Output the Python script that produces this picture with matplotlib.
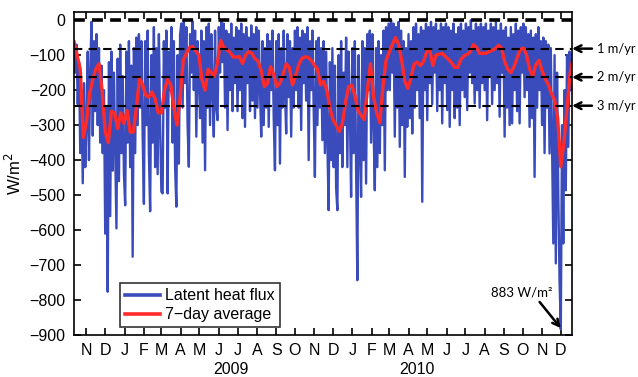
import numpy as np
import matplotlib
matplotlib.use('Agg')
import matplotlib.pyplot as plt
import matplotlib.dates as mdates
from matplotlib.ticker import FuncFormatter

plt.rcParams['font.family'] = ['Liberation Sans', 'DejaVu Sans']

# Latent heat flux, one value every 2 days from 12 Oct 2008 (W/m2)
flux_2008 = [-60, -150, -70, -240, -120, -380, -200, -466, -180, -420,
             -300, -90, -400, -150, -5, -330, -60, -260, -40, -300, -80, -350, -130, -380, -200,
             -610, -250, -776, -120, -560, -90, -430, -150, -380, -595, -110, -460, -70, -380, -160, -440]
flux_2009_h1 = [-529, -90, -350, -60, -420, -130, -676, -80, -380, -50, -300, -40, -250, -60, -330,
                -525, -60, -300, -30, -380, -546, -100, -350, -20, -420, -80, -440, -40, -300, -490,
                -495, -60, -250, -30, -495, -90, -200, -20, -350, -60, -420, -533, -100, -410, -40,
                -10, -250, 0, -180, -20, -300, -419, -40, -150, -5, -200, -30, -333, -60, -160,
                -280, -30, -350, -60, -429, -20, -250, -10, -300, -40, -200, -333, -30, -250, -286,
                -20, -150, 0, -120, -10, -250, -30, -314, -40, -200, -10, -260, -50, -180, -20]
flux_2009_h2 = [-260, -30, -200, -10, -280, -40, -305, -20, -180, -50, -260, -15, -230, -40, -280, -20,
                -250, -30, -200, -333, -60, -300, -80, -250, -40, -305, -60, -200, -30, -280, -429,
                -60, -300, -40, -410, -80, -250, -30, -200, -324, -40, -220, -60, -333, -80, -250,
                -30, -200, -20, -250, -50, -314, -30, -180, -40, -230, -20, -400, -60, -200, -30,
                -250, -448, -60, -300, -50, -250, -80, -343, -60, -380, -90, -350, -543, -120, -400,
                -80, -420, -130, -480, -543, -100, -380, -60, -420, -150, -300, -50, -420, -90, -250, -505]
flux_2010_h1 = [-80, -380, -60, -420, -743, -100, -350, -505, -60, -400, -80, -467, -40, -200, -30,
                -350, -40, -300, -486, -80, -420, -60, -380, -100, -300, -30, -429, -20, -200,
                -10, -200, 0, -150, -10, -333, -20, -250, -5, -362, -30, -300, -60, -448, -80,
                -305, -40, -280, -60, -324, -20, -250, -10, -200, -40, -280, -20, -519, -30, -200,
                -10, -286, -20, -180, -5, -240, -20, -150, -10, -260, -30, -200, -10, -295, -20, -180,
                -10, -257, -20, -305, -30, -200, -10, -280, -40, -250, -20, -300, -10, -200, -30]
flux_2010_h2 = [-220, -10, -257, -20, -150, 0, -180, -30, -238, -10, -200, -20, -250, -10, -180,
                -20, -200, -10, -286, -30, -160, -10, -240, -20, -200, -5, -180, -30, -276, -10, -150,
                -30, -333, -20, -250, -50, -300, -20, -295, -40, -200, -10, -260, -30, -295, -20,
                -150, -10, -220, -20, -200, -40, -305, -30, -280, -50, -448, -40, -250, -20, -200,
                -60, -300, -50, -380, -60, -250, -70, -381, -80, -350, -638, -100, -695, -150, -500,
                -743, -883, -300, -638, -200, -486, -100, -362, -90, -200]

# 7-day average, one value every 5 days from 12 Oct 2008 (W/m2)
avg_2008 = [-62, -100, -140, -335, -290, -210, -170, -140, -125, -200, -320, -350, -260, -265, -310, -265]
avg_2009 = [-295, -258, -320, -320, -250, -165, -185, -215, -220, -205, -225, -265, -265, -200, -170,
            -185, -250, -300, -220, -115, -95, -78, -76, -88, -100, -170, -200, -140, -150, -160,
            -120, -58, -78, -85, -92, -105, -106, -104, -124, -100, -90, -95, -110, -118, -145,
            -190, -180, -133, -155, -190, -180, -155, -125, -135, -185, -160, -128, -110, -105,
            -106, -115, -128, -140, -185, -175, -200, -250, -285, -300, -318, -295, -235, -190]
avg_2010 = [-186, -215, -258, -272, -284, -200, -125, -220, -265, -293, -190, -115, -92, -70, -50,
            -68, -115, -175, -195, -165, -125, -120, -130, -118, -92, -85, -130, -100, -97, -95,
            -104, -112, -122, -135, -135, -112, -102, -98, -90, -70, -78, -95, -95, -95, -90,
            -86, -82, -72, -80, -118, -140, -150, -133, -108, -84, -80, -98, -140, -160, -128,
            -115, -145, -167, -185, -210, -228, -280, -419, -350, -250, -150, -105]

# sublimation rates as heat flux (W/m2)
rate_labels = ['1 m/yr', '2 m/yr', '3 m/yr']
rate_flux = [-81.5, -163, -244.5]

start = np.datetime64('2008-10-12')
flux = np.array(flux_2008 + flux_2009_h1 + flux_2009_h2 + flux_2010_h1 + flux_2010_h2)
avg = np.array(avg_2008 + avg_2009 + avg_2010)
flux_dates = (start + 2 * np.arange(len(flux))).astype('datetime64[D]')
avg_dates = (start + 5 * np.arange(len(avg))).astype('datetime64[D]')

fig = plt.figure(figsize=(6.38, 3.77), dpi=100)
ax = fig.add_axes([0.116, 0.111, 0.7806, 0.857])

ax.plot(flux_dates, flux, color='#3a4cbc', lw=1.7, label='Latent heat flux')
ax.plot(avg_dates, avg, color='#ff2a2a', lw=2.4, label='7\u2212day average')

ax.axhline(0, color='k', ls=(0, (3, 2)), lw=2.6)
for r in rate_flux:
    ax.axhline(r, color='k', ls=(0, (4, 3)), lw=1.5)

ax.set_xlim(np.datetime64('2008-10-12'), np.datetime64('2010-12-19'))
ax.set_ylim(-900, 23)
ax.set_yticks(np.arange(-900, 1, 100))
ax.xaxis.set_major_locator(mdates.MonthLocator())
ax.xaxis.set_major_formatter(FuncFormatter(lambda v, p: mdates.num2date(v).strftime('%b')[0]))
ax.tick_params(direction='in', length=5, width=1.2, top=True, right=True, labelsize=11.5, pad=6)
for s in ax.spines.values():
    s.set_linewidth(1.2)
ax.set_ylabel('W/m$^2$', fontsize=12, labelpad=4)

ax.text(np.datetime64('2009-06-20'), -997, '2009', ha='center', va='center', fontsize=11.5)
ax.text(np.datetime64('2010-04-15'), -997, '2010', ha='center', va='center', fontsize=11.5)

leg = ax.legend(loc='lower left', bbox_to_anchor=(0.092, 0.025), borderaxespad=0, fontsize=11.5,
                frameon=True, fancybox=False, edgecolor='k', handlelength=2.2, borderpad=0.3,
                labelspacing=0.25, handletextpad=0.35)
leg.get_frame().set_linewidth(1.2)
for line in leg.get_lines():
    line.set_linewidth(2.6)

for lab, r in zip(rate_labels, rate_flux):
    ax.annotate('', xy=(1.0, r), xycoords=('axes fraction', 'data'),
                xytext=(1.04, r), textcoords=('axes fraction', 'data'),
                arrowprops=dict(arrowstyle='->', lw=1.8, color='k', mutation_scale=12,
                                shrinkA=0, shrinkB=0), annotation_clip=False)
    ax.text(1.05, r, lab, transform=ax.get_yaxis_transform(), ha='left', va='center',
            fontsize=9.3, family=['Lato', 'DejaVu Sans'])

ax.annotate('', xy=(np.datetime64('2010-12-01'), -880), xytext=(np.datetime64('2010-10-28'), -805),
            arrowprops=dict(arrowstyle='->', lw=1.8, color='k', mutation_scale=12,
                            shrinkA=0, shrinkB=0))
ax.text(np.datetime64('2010-09-29'), -778, '883 W/m\u00b2', ha='center', va='center',
        fontsize=9.5, family=['Lato', 'DejaVu Sans'])

fig.savefig('out.png', dpi=100)
